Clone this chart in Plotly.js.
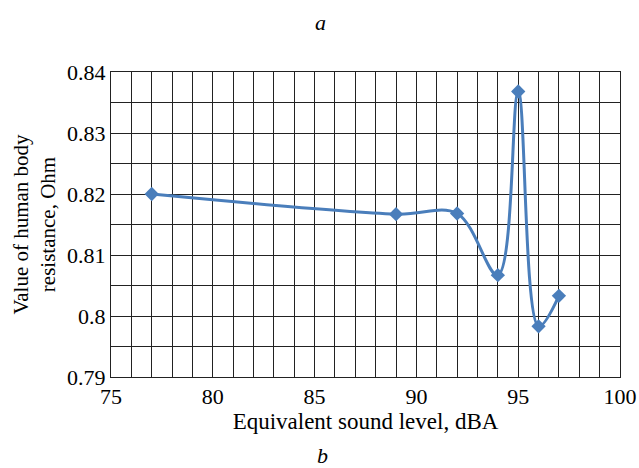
<!DOCTYPE html>
<html>
<head>
<meta charset="utf-8">
<script src="https://cdn.plot.ly/plotly-3.0.1.min.js"></script>
<style>html,body{margin:0;padding:0;background:#fff;}#chart{width:639px;height:468px;}</style>
</head>
<body>
<div id="chart"></div>
<script>
const soundLevel = [77, 89, 92, 94, 95, 96, 97];
const resistance = [0.8200, 0.8167, 0.8168, 0.8067, 0.8368, 0.7983, 0.8033];
const xTitle = "Equivalent sound level, dBA";
const yTitle = "Value of human body<br>resistance, Ohm";
const xTickVals = [75,76,77,78,79,80,81,82,83,84,85,86,87,88,89,90,91,92,93,94,95,96,97,98,99,100];
const xTickText = ["75","","","","","80","","","","","85","","","","","90","","","","","95","","","","","100"];
const yTickVals = [0.79,0.795,0.80,0.805,0.81,0.815,0.82,0.825,0.83,0.835,0.84];
const yTickText = ["0.79","","0.8","","0.81","","0.82","","0.83","","0.84"];

const FAM = "Liberation Serif, serif";
function f(size, extra) { return Object.assign({family: FAM, size: size, color: "#000"}, extra || {}); }

const trace = {
  x: soundLevel, y: resistance, type: "scatter", mode: "lines+markers",
  line: {color: "#4a7ebb", width: 3, shape: "spline", smoothing: 1},
  marker: {symbol: "diamond", size: 11, color: "#4a7ebb"}
};

const layout = {
  width: 639, height: 468,
  margin: {l: 111, r: 19, t: 72, b: 91},
  paper_bgcolor: "#fff", plot_bgcolor: "#fff",
  showlegend: false,
  font: {family: FAM, color: "#000"},
  xaxis: {
    range: [75, 100], tickmode: "array", tickvals: xTickVals, ticktext: xTickText,
    showgrid: true, gridcolor: "#222", gridwidth: 1,
    showline: true, linecolor: "#222", linewidth: 1, mirror: true,
    ticks: "", zeroline: false,
    tickfont: f(22),
    title: {text: xTitle, font: f(23), standoff: 4}
  },
  yaxis: {
    range: [0.79, 0.84], tickmode: "array", tickvals: yTickVals, ticktext: yTickText,
    showgrid: true, gridcolor: "#222", gridwidth: 1,
    showline: true, linecolor: "#222", linewidth: 1, mirror: true,
    ticks: "", zeroline: false,
    tickfont: f(22),
    title: {text: yTitle, font: f(21), standoff: 5}
  },
  annotations: [
    {text: "a", xref: "paper", yref: "paper", x: (320-111)/509, y: 1 + (72-22)/305, showarrow: false,
     font: f(22, {style: "italic"}), xanchor: "center", yanchor: "middle"},
    {text: "b", xref: "paper", yref: "paper", x: (322-111)/509, y: -(456-377)/305, showarrow: false,
     font: f(22, {style: "italic"}), xanchor: "center", yanchor: "middle"}
  ]
};

Plotly.newPlot("chart", [trace], layout, {staticPlot: true, displayModeBar: false});
</script>
</body>
</html>
